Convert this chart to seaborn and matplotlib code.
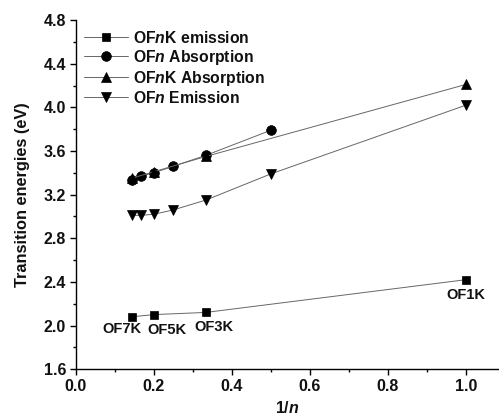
import matplotlib
matplotlib.use("Agg")
import matplotlib.pyplot as plt
import seaborn as sns
import pandas as pd
from matplotlib.ticker import MultipleLocator, FormatStrFormatter

sns.set_theme(style="ticks")
plt.rcParams['font.family'] = 'Liberation Sans'
plt.rcParams['font.weight'] = 'bold'
plt.rcParams['axes.labelweight'] = 'bold'
plt.rcParams['mathtext.fontset'] = 'custom'
plt.rcParams['mathtext.it'] = 'Liberation Sans:italic:bold'
plt.rcParams['mathtext.rm'] = 'Liberation Sans:bold'
plt.rcParams['mathtext.bf'] = 'Liberation Sans:bold'

# data
x_k = [1/7, 1/5, 1/3, 1.0]
ofnk_emission = [2.08, 2.10, 2.12, 2.42]
x_n = [1/7, 1/6, 1/5, 1/4, 1/3, 1/2]
ofn_absorption = [3.33, 3.37, 3.40, 3.46, 3.56, 3.79]
ofnk_absorption = [3.35, 3.41, 3.55, 4.21]
x_ne = [1/7, 1/6, 1/5, 1/4, 1/3, 1/2, 1.0]
ofn_emission = [3.01, 3.01, 3.02, 3.06, 3.15, 3.39, 4.02]
point_labels = ["OF7K", "OF5K", "OF3K", "OF1K"]
label_x = [0.118, 0.233, 0.355, 1.0]
label_y = [1.965, 1.96, 1.985, 2.28]

fig = plt.figure(figsize=(4.99, 4.19), dpi=100)
ax = fig.add_axes([0.152, 0.119, 0.848, 0.833])

series = [
    (x_k, ofnk_emission, 's', r'OF$n$K emission', 6.3),
    (x_n, ofn_absorption, 'o', r'OF$n$ Absorption', 7),
    (x_k, ofnk_absorption, '^', r'OF$n$K Absorption', 7.5),
    (x_ne, ofn_emission, 'v', r'OF$n$ Emission', 7.5),
]
for xs, ys, m, lab, ms in series:
    df = pd.DataFrame({'x': xs, 'y': ys})
    sns.lineplot(data=df, x='x', y='y', ax=ax, marker=m, color='#666666',
                 linewidth=0.7, markersize=ms, markerfacecolor='black',
                 markeredgecolor='black', markeredgewidth=0.5, label=lab)

for t, xx, yy in zip(point_labels, label_x, label_y):
    ax.text(xx, yy, t, ha='center', va='center', fontsize=10.5,
            fontweight='bold', color='#111111')

ax.set_xlim(0, 1.085)
ax.set_ylim(1.6, 4.8)
ax.xaxis.set_major_locator(MultipleLocator(0.2))
ax.xaxis.set_minor_locator(MultipleLocator(0.1))
ax.yaxis.set_major_locator(MultipleLocator(0.4))
ax.yaxis.set_minor_locator(MultipleLocator(0.2))
ax.tick_params(which='major', direction='out', length=4, width=1, labelsize=11.5,
               color='black', labelcolor='#111111', pad=3)
ax.tick_params(which='minor', direction='out', length=2.5, width=1, color='black')
ax.xaxis.set_major_formatter(FormatStrFormatter('%.1f'))
ax.yaxis.set_major_formatter(FormatStrFormatter('%.1f'))
for lbl in ax.get_xticklabels() + ax.get_yticklabels():
    lbl.set_fontweight('bold')

sns.despine(ax=ax)
for s in ['left', 'bottom']:
    ax.spines[s].set_color('black')
    ax.spines[s].set_linewidth(1)

ax.set_xlabel(r'1/$n$', fontsize=11.5, fontweight='bold', labelpad=4.5, color='#111111')
ax.set_ylabel('Transition energies (eV)', fontsize=11.8, fontweight='bold',
              labelpad=10, color='#111111')

leg = ax.legend(loc='upper left', frameon=False, fontsize=11.3, handlelength=2.8,
                handletextpad=0.3, labelspacing=0.12, borderaxespad=0.0,
                bbox_to_anchor=(0.005, 0.99))
for t in leg.get_texts():
    t.set_fontweight('bold')
    t.set_color('#111111')

fig.savefig('out.png', dpi=100)
